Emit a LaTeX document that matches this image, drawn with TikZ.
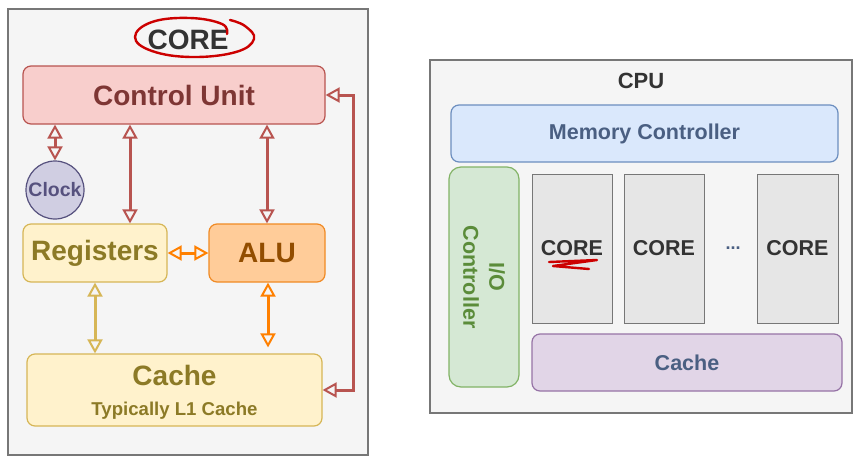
\documentclass[tikz,border=0pt]{standalone}
\usepackage{fontspec}
\setmainfont{Liberation Sans}
\usetikzlibrary{arrows.meta,positioning}

\definecolor{paneFill}{HTML}{F5F5F5}
\definecolor{paneLine}{HTML}{777777}
\definecolor{redFill}{HTML}{F8CECC}
\definecolor{redLine}{HTML}{B85450}
\definecolor{redText}{HTML}{7E3634}
\definecolor{yelFill}{HTML}{FFF2CC}
\definecolor{yelLine}{HTML}{D6B656}
\definecolor{yelText}{HTML}{8C7A26}
\definecolor{orgFill}{HTML}{FFCC99}
\definecolor{orgLine}{HTML}{F08A24}
\definecolor{orgText}{HTML}{924D00}
\definecolor{orgArrow}{HTML}{FF8000}
\definecolor{purFill}{HTML}{D0CEE2}
\definecolor{purLine}{HTML}{56517E}
\definecolor{bluFill}{HTML}{DAE8FC}
\definecolor{bluLine}{HTML}{6C8EBF}
\definecolor{bluText}{HTML}{4A5F82}
\definecolor{grnFill}{HTML}{D5E8D4}
\definecolor{grnLine}{HTML}{82B366}
\definecolor{grnText}{HTML}{5B8C3A}
\definecolor{vioFill}{HTML}{E1D5E7}
\definecolor{vioLine}{HTML}{9673A6}
\definecolor{coreFill}{HTML}{E6E6E6}
\definecolor{darkText}{HTML}{333333}
\definecolor{inkRed}{HTML}{CC0000}

\tikzset{
  pane/.style={draw=paneLine,fill=paneFill,line width=1.5pt,inner sep=0pt},
  unit/.style={rounded corners=8pt,line width=1.2pt,inner sep=0pt,font=\bfseries},
  bigtxt/.style={font=\fontsize{28}{32}\selectfont\bfseries},
  midtxt/.style={font=\fontsize{21.5}{26}\selectfont\bfseries},
  link/.style={line width=3pt,>={Triangle[open,length=14pt 0,width=15pt 0,line width=2pt]},<->},
}

\begin{document}
\begin{tikzpicture}[x=1pt,y=-1pt]
  \useasboundingbox (0,0) rectangle (863,472);
  % core pane
  \node[pane,minimum width=360,minimum height=446] (coreBox) at (188,232) {};
  \node[bigtxt,text=darkText] (coreTitle) at (188,40) {CORE};
  \draw[inkRed,line width=2.4pt,line cap=round] plot[smooth,tension=0.7] coordinates
    {(227,34) (222,24) (190,18) (152,22) (135,37) (152,51) (192,57) (236,52) (254,39) (245,26) (230,20)};
  % units
  \node[unit,fill=redFill,draw=redLine,minimum width=302,minimum height=58,bigtxt,text=redText] (ctrl) at (174,95) {Control Unit};
  \node[circle,fill=purFill,draw=purLine,line width=1.2pt,minimum size=58,inner sep=0pt,
        font=\fontsize{19.5}{22}\selectfont\bfseries,text=purLine] (clock) at (55,190) {Clock};
  \node[unit,fill=yelFill,draw=yelLine,minimum width=144,minimum height=58,bigtxt,text=yelText] (regs) at (95,253) {Registers};
  \node[unit,fill=orgFill,draw=orgLine,minimum width=116,minimum height=58,bigtxt,text=orgText] (alu) at (267,253) {ALU};
  \node[unit,fill=yelFill,draw=yelLine,minimum width=295,minimum height=72] (cache) at (174.5,390) {};
  \node[bigtxt,text=yelText] (cacheTxt) at (174.5,375) {Cache};
  \node[font=\fontsize{18.6}{22}\selectfont\bfseries,text=yelText] (cacheSub) at (174.5,411) {Typically L1 Cache};
  % links
  \draw[link,redLine] (clock.north |- ctrl.south) -- (clock.north);
  \draw[link,redLine] ([xshift=35pt]regs.north |- ctrl.south) -- ([xshift=35pt]regs.north);
  \draw[link,redLine] (alu.north |- ctrl.south) -- (alu.north);
  \draw[link,orgArrow] (regs.east) -- (alu.west);
  \draw[link,yelLine] (regs.south) -- (regs.south |- cache.north);
  \draw[link,orgArrow] ([xshift=1pt]alu.south) -- ([xshift=1pt,yshift=6pt]alu.south |- cache.north);
  \draw[link,redLine] (cache.east) -- ++(31,0) |- (ctrl.east);

  % cpu pane
  \node[pane,line width=2pt,minimum width=422,minimum height=353] (cpuBox) at (641,236.5) {};
  \node[font=\fontsize{22}{26}\selectfont\bfseries,text=darkText] (cpuTitle) at (641,81) {CPU};
  \node[unit,fill=bluFill,draw=bluLine,minimum width=387,minimum height=57,midtxt,text=bluText] (memctl) at (644.5,133.5) {Memory Controller};
  \node[unit,rounded corners=12pt,fill=grnFill,draw=grnLine,minimum width=70,minimum height=220] (ioctl) at (484,277) {};
  \node[midtxt,text=grnText,rotate=-90,align=center] (ioTxt) at (484,277) {I/O\\Controller};
  \node[fill=coreFill,draw=paneLine,line width=1pt,minimum width=80,minimum height=149,midtxt,text=darkText] (core1) at (572,248.5) {CORE};
  \node[fill=coreFill,draw=paneLine,line width=1pt,minimum width=80,minimum height=149,midtxt,text=darkText] (core2) at (664,248.5) {CORE};
  \node[fill=coreFill,draw=paneLine,line width=1pt,minimum width=81,minimum height=149,midtxt,text=darkText] (core3) at (797.5,248.5) {CORE};
  \node[font=\fontsize{18}{22}\selectfont\bfseries,text=bluText] (dots) at (733,248) {...};
  \node[unit,fill=vioFill,draw=vioLine,minimum width=310,minimum height=57,midtxt,text=bluText] (l2cache) at (687,362.5) {Cache};
  \draw[inkRed,line width=2.4pt,line cap=round,line join=round] (549,262) -- (597,260) -- (553,266) -- (589,269);
\end{tikzpicture}
\end{document}
